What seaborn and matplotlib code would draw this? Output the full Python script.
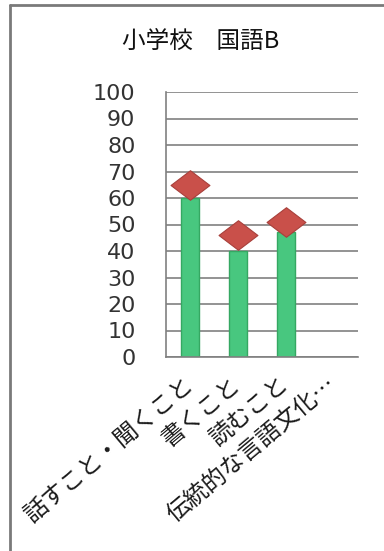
import numpy as np
import pandas as pd
import matplotlib
matplotlib.use("Agg")
import matplotlib.pyplot as plt
from matplotlib.path import Path
from matplotlib.lines import Line2D
import seaborn as sns

# Chart content
title = "小学校\u3000国語B"
categories = ["話すこと・聞くこと", "書くこと", "読むこと", "伝統的な言語文化…"]
school_values = [60, 40, 47]      # bars (first three areas)
reference_values = [65, 46, 51]   # diamond markers
y_ticks = [0, 10, 20, 30, 40, 50, 60, 70, 80, 90, 100]

sns.set_style("white")
plt.rcParams["font.family"] = ["Noto Sans CJK JP", "DejaVu Sans"]

bar_color = "#48c77f"
bar_edge = "#35a862"
diamond_color = "#c9504a"
diamond_edge = "#a8403b"
grid_color = "#808080"

fig = plt.figure(figsize=(3.84, 5.51), dpi=100)
ax = fig.add_axes([166 / 384, 1 - 357 / 551, 192 / 384, 265 / 551])

bars_df = pd.DataFrame({"area": categories[:3], "value": school_values})
marks_df = pd.DataFrame({"area": categories[:3], "value": reference_values})

sns.barplot(data=bars_df, x="area", y="value", order=categories, ax=ax,
            color=bar_color, saturation=1, width=0.38,
            edgecolor=bar_edge, linewidth=1, zorder=2)

# wide diamond marker
diamond = Path([(-1.0, 0.0), (0.0, 0.76), (1.0, 0.0), (0.0, -0.76), (-1.0, 0.0)],
               [Path.MOVETO, Path.LINETO, Path.LINETO, Path.LINETO, Path.CLOSEPOLY])
sns.pointplot(data=marks_df, x="area", y="value", order=categories, ax=ax,
              color=diamond_color, marker=diamond, linestyle="none",
              markersize=28, markeredgecolor=diamond_edge, markeredgewidth=0.8,
              errorbar=None, zorder=4)

ax.set_xlim(-0.5, len(categories) - 0.5)
ax.set_ylim(0, 100)
ax.set_yticks(y_ticks)
ax.set_yticklabels([str(v) for v in y_ticks], family="DejaVu Sans",
                   fontsize=16, color="#333333")
ax.tick_params(axis="y", length=0, pad=22)
ax.tick_params(axis="x", length=0, pad=18)
ax.set_xticks(range(len(categories)))
ax.set_xticklabels(categories, rotation=40, ha="right", va="center",
                   rotation_mode="anchor", fontsize=17, color="#1a1a1a")
ax.set_xlabel("")
ax.set_ylabel("")

ax.yaxis.grid(True, color=grid_color, linewidth=1.2, zorder=0)
ax.set_axisbelow(True)
for side in ("top", "right"):
    ax.spines[side].set_visible(False)
for side in ("left", "bottom"):
    ax.spines[side].set_color(grid_color)
    ax.spines[side].set_linewidth(1.2)

fig.text(201 / 384, 1 - 41 / 551, title, ha="center", va="center",
         fontsize=17, color="#111111")

# frame lines on the top and left edges
fig.add_artist(Line2D([10 / 384, 1.0], [1 - 5 / 551, 1 - 5 / 551],
                      transform=fig.transFigure, color="#7a7a7a", linewidth=2))
fig.add_artist(Line2D([10 / 384, 10 / 384], [0.0, 1 - 5 / 551],
                      transform=fig.transFigure, color="#7a7a7a", linewidth=2))

fig.savefig("out.png", dpi=100)
